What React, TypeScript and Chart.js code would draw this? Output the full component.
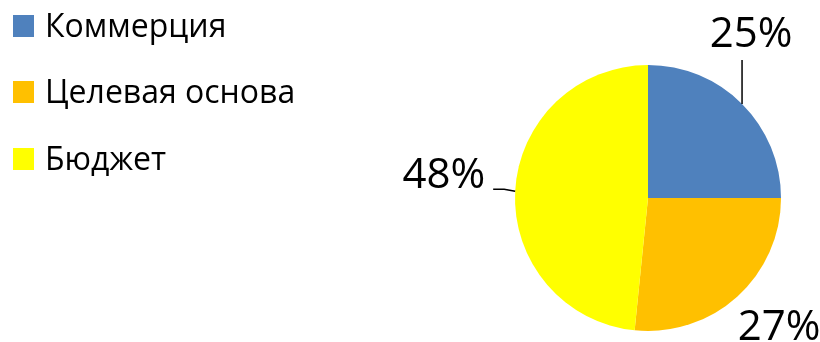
import React, { useEffect, useRef } from "react";
import { Chart, registerables } from "chart.js";

Chart.register(...registerables);

const categories = ["Коммерция", "Целевая основа", "Бюджет"];
const shares = [25, 26.6, 48.4];
const percentLabels = ["25%", "27%", "48%"];
const colors = ["#4F81BD", "#FFC000", "#FFFF00"];

const FONT = "'Open Sans', 'Liberation Sans', sans-serif";

const overlayPlugin = {
  id: "overlay",
  afterDraw(chart: any) {
    const ctx = chart.ctx;
    ctx.save();
    // legend
    const legendRows = [15, 81, 148];
    categories.forEach((name, i) => {
      ctx.fillStyle = colors[i];
      ctx.fillRect(13, legendRows[i], 21, 22);
      ctx.fillStyle = "#000";
      ctx.font = `32px ${FONT}`;
      ctx.textAlign = "left";
      ctx.textBaseline = "alphabetic";
      ctx.fillText(name, 45, legendRows[i] + 22);
    });
    // percent labels
    const meta = chart.getDatasetMeta(0);
    const placements = [
      { line: [[0, -44]], dx: 9, dy: -57, align: "center" },
      { line: [], dx: 42, dy: 43, align: "center" },
      { line: [[-11, -2], [-22, -2]], dx: -30, dy: -3, align: "right" },
    ];
    meta.data.forEach((arc: any, i: number) => {
      const p = arc.getProps(["x", "y", "startAngle", "endAngle", "outerRadius"], true);
      const mid = (p.startAngle + p.endAngle) / 2;
      const ex = p.x + p.outerRadius * Math.cos(mid);
      const ey = p.y + p.outerRadius * Math.sin(mid);
      const pl = placements[i];
      if (pl.line.length) {
        ctx.strokeStyle = "#000";
        ctx.lineWidth = 1.5;
        ctx.beginPath();
        ctx.moveTo(ex, ey);
        pl.line.forEach(([lx, ly]) => ctx.lineTo(ex + lx, ey + ly));
        ctx.stroke();
      }
      ctx.fillStyle = "#000";
      ctx.font = `42px ${FONT}`;
      ctx.textAlign = pl.align;
      ctx.textBaseline = "alphabetic";
      ctx.fillText(percentLabels[i], ex + pl.dx, ey + pl.dy);
    });
    ctx.restore();
  },
};

export default function App() {
  const ref = useRef<HTMLCanvasElement | null>(null);
  useEffect(() => {
    if (!ref.current) return;
    const chart = new Chart(ref.current, {
      type: "pie",
      data: {
        labels: categories,
        datasets: [
          {
            data: shares,
            backgroundColor: colors,
            borderWidth: 0,
          },
        ],
      },
      options: {
        animation: false,
        responsive: false,
        maintainAspectRatio: false,
        layout: { padding: { left: 515, right: 39, top: 65, bottom: 11 } },
        plugins: {
          legend: { display: false },
          tooltip: { enabled: false },
        },
      },
      plugins: [overlayPlugin],
    });
    return () => chart.destroy();
  }, []);
  return (
    <div style={{ position: "fixed", left: 0, top: 0, width: 820, height: 342, background: "#fff" }}>
      <canvas ref={ref} width={820} height={342} style={{ width: 820, height: 342 }} />
    </div>
  );
}
